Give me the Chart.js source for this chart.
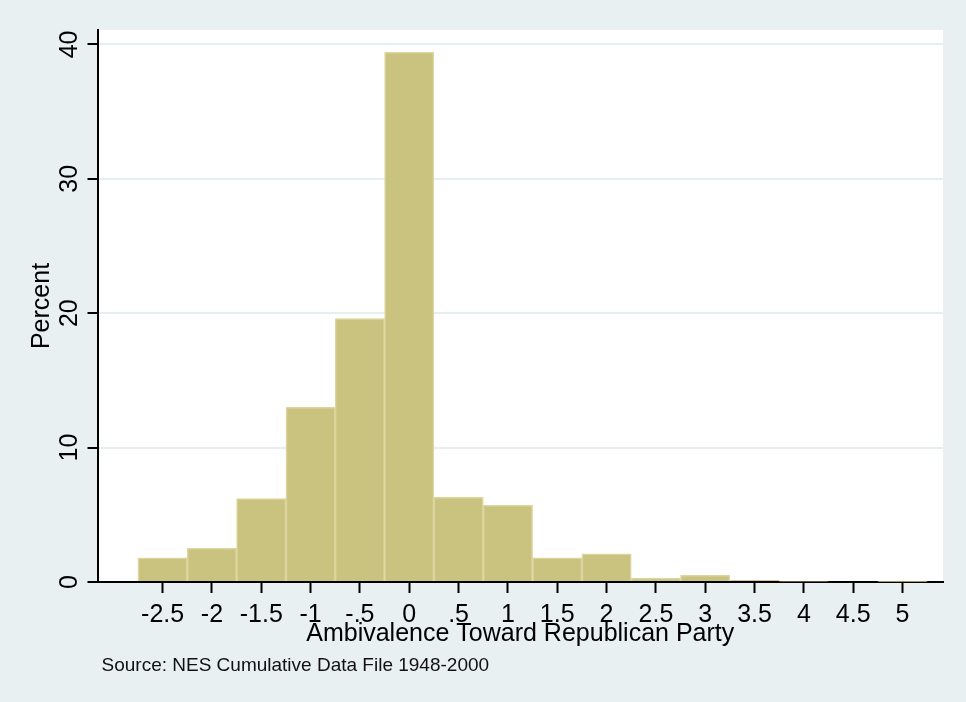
<!DOCTYPE html>
<html>
<head>
<meta charset="utf-8">
<title>Ambivalence Toward Republican Party</title>
<script src="https://cdn.jsdelivr.net/npm/chart.js@4.4.1/dist/chart.umd.min.js"></script>
<style>
  html, body { margin: 0; padding: 0; background: #e8f0f2; }
</style>
</head>
<body>
<canvas id="histChart" width="966" height="702"></canvas>
<script>
// histogram bins (width .5) and their heights in percent
const BIN_CENTERS = [-2.5, -2, -1.5, -1, -0.5, 0, 0.5, 1, 1.5, 2, 2.5, 3, 3.5, 4, 4.5, 5];
const PERCENTS = [1.8, 2.5, 6.2, 13.0, 19.6, 39.4, 6.3, 5.7, 1.8, 2.1, 0.3, 0.5, 0.15, 0.06, 0, 0.05];

const X_TICKS = [-2.5, -2, -1.5, -1, -0.5, 0, 0.5, 1, 1.5, 2, 2.5, 3, 3.5, 4, 4.5, 5];
const X_TICK_LABELS = ['-2.5', '-2', '-1.5', '-1', '-.5', '0', '.5', '1', '1.5', '2', '2.5', '3', '3.5', '4', '4.5', '5'];
const Y_TICKS = [0, 10, 20, 30, 40];

const X_TITLE = 'Ambivalence Toward Republican Party';
const Y_TITLE = 'Percent';
const SOURCE_NOTE = 'Source: NES Cumulative Data File 1948-2000';

Chart.defaults.font.family = '"Liberation Sans", Arial, Helvetica, sans-serif';
Chart.defaults.color = '#000';

// grey outer region, white plot region
const plotBackground = {
  id: 'plotBackground',
  beforeDraw(chart) {
    const { ctx, chartArea: a } = chart;
    ctx.save();
    ctx.fillStyle = '#e8f0f2';
    ctx.fillRect(0, 0, chart.width, chart.height);
    ctx.fillStyle = '#ffffff';
    ctx.fillRect(a.left, a.top, a.right - a.left, a.bottom - a.top);
    ctx.restore();
  }
};

// note under the x axis title
const sourceNote = {
  id: 'sourceNote',
  afterDraw(chart) {
    const ctx = chart.ctx;
    ctx.save();
    ctx.font = '19px "Liberation Sans", Arial, sans-serif';
    ctx.fillStyle = '#111';
    ctx.textBaseline = 'alphabetic';
    ctx.textAlign = 'left';
    ctx.fillText(SOURCE_NOTE, chart.chartArea.left + 4, 671);
    ctx.restore();
  }
};

const ctx = document.getElementById('histChart').getContext('2d');

const chart = new Chart(ctx, {
  type: 'bar',
  data: {
    datasets: [{
      data: BIN_CENTERS.map((x, i) => ({ x: x, y: PERCENTS[i] })),
      backgroundColor: '#cac27f',
      borderColor: '#dcd69e',
      borderWidth: 1.5,
      barPercentage: 1,
      categoryPercentage: 1
    }]
  },
  options: {
    responsive: false,
    animation: false,
    layout: { padding: { top: 30, right: 23, bottom: 0, left: 0 } },
    plugins: {
      legend: { display: false },
      tooltip: { enabled: false }
    },
    scales: {
      x: {
        type: 'linear',
        min: -3.16,
        max: 5.41,
        offset: false,
        z: 1,
        grid: {
          offset: false,
          drawOnChartArea: false,
          drawTicks: true,
          tickLength: 11,
          tickWidth: 2,
          tickColor: '#000'
        },
        border: { color: '#000', width: 2 },
        ticks: {
          padding: 7,
          autoSkip: false,
          maxRotation: 0,
          font: { size: 25 },
          callback: function(value) {
            const i = X_TICKS.indexOf(value);
            return i >= 0 ? X_TICK_LABELS[i] : '';
          }
        },
        afterBuildTicks: function(scale) {
          scale.ticks = X_TICKS.map(v => ({ value: v }));
        },
        afterFit: function(scale) {
          scale.height = 120;
        },
        title: {
          display: true,
          text: X_TITLE,
          font: { size: 25 },
          padding: { top: 0, bottom: 53 }
        }
      },
      y: {
        type: 'linear',
        min: 0,
        max: 41.07,
        grid: {
          color: ctx => ctx.tick && ctx.tick.value === 0 ? 'rgba(0,0,0,0)' : '#e6eef1',
          lineWidth: 2,
          tickLength: 10,
          tickWidth: 2,
          tickColor: '#000'
        },
        border: { color: '#000', width: 2 },
        ticks: {
          padding: 3,
          minRotation: 90,
          maxRotation: 90,
          crossAlign: 'center',
          font: { size: 25 }
        },
        afterBuildTicks: function(scale) {
          scale.ticks = Y_TICKS.map(v => ({ value: v }));
        },
        afterFit: function(scale) {
          scale.width = 97.5;
        },
        title: {
          display: true,
          text: Y_TITLE,
          font: { size: 25 },
          padding: { top: 27.5, bottom: 0 }
        }
      }
    }
  },
  plugins: [plotBackground, sourceNote]
});
</script>
</body>
</html>
